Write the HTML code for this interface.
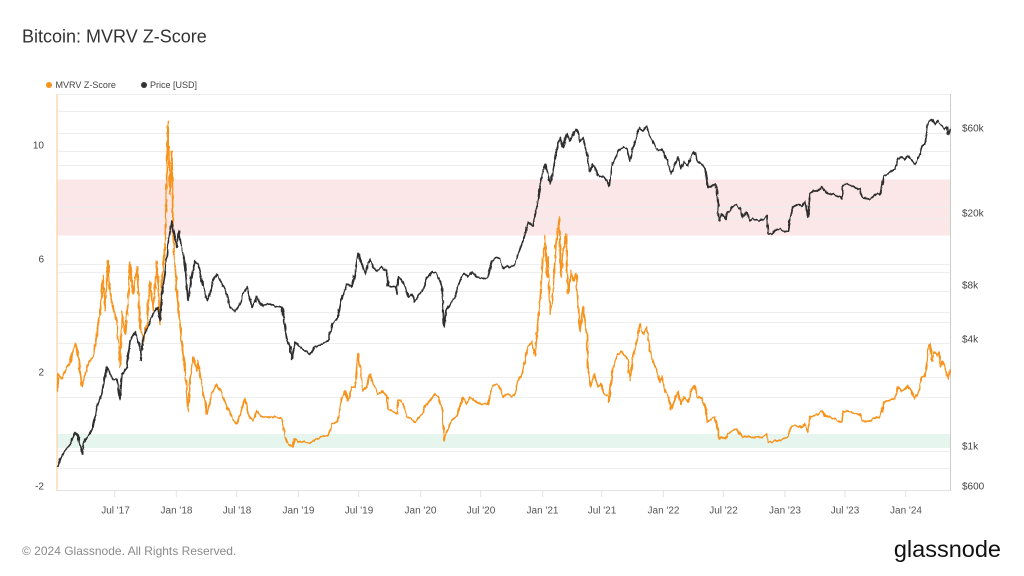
<!DOCTYPE html>
<html>
<head>
<meta charset="utf-8">
<style>
  html, body { margin:0; padding:0; background:#ffffff; }
  body { width:1024px; height:576px; overflow:hidden; position:relative; font-family:"Liberation Sans", Arial, sans-serif; }
  svg { position:absolute; left:0; top:0; }
  text { font-family:"Liberation Sans", Arial, sans-serif; }
</style>
</head>
<body>
<svg width="1024" height="576" viewBox="0 0 1024 576" xmlns="http://www.w3.org/2000/svg">
  <defs>
    <filter id="jit" filterUnits="userSpaceOnUse" x="50" y="90" width="910" height="410">
      <feTurbulence type="fractalNoise" baseFrequency="0.35 0.12" numOctaves="2" seed="7" result="n"/>
      <feDisplacementMap in="SourceGraphic" in2="n" scale="3.2" xChannelSelector="R" yChannelSelector="G"/>
    </filter>
  </defs>
  <rect x="0" y="0" width="1024" height="576" fill="#ffffff"/>

  <!-- Title -->
  <text x="22" y="42.5" font-size="18" fill="#333333">Bitcoin: MVRV Z-Score</text>

  <!-- Legend -->
  <circle cx="49" cy="85" r="3" fill="#f7931a"/>
  <text x="55.5" y="88" font-size="9" fill="#444444">MVRV Z-Score</text>
  <circle cx="144" cy="85" r="3" fill="#333333"/>
  <text x="150" y="88" font-size="9" fill="#444444">Price [USD]</text>

  <!-- Bands -->
  <rect x="57" y="179.5" width="893" height="56" fill="#fce7e8"/>
  <rect x="57" y="434" width="893" height="14" fill="#e6f6ee"/>

  <!-- Gridlines -->
  <g stroke="#eeeeee" stroke-width="1">
    <line x1="57" y1="94.5" x2="950" y2="94.5"/>
    <line x1="57" y1="111.5" x2="950" y2="111.5"/>
    <line x1="57" y1="133.5" x2="950" y2="133.5"/>
    <line x1="57" y1="151.5" x2="950" y2="151.5"/>
    <line x1="57" y1="165.5" x2="950" y2="165.5"/>
    <line x1="57" y1="207.5" x2="950" y2="207.5"/>
    <line x1="57" y1="218.5" x2="950" y2="218.5"/>
    <line x1="57" y1="264.5" x2="950" y2="264.5"/>
    <line x1="57" y1="272.5" x2="950" y2="272.5"/>
    <line x1="57" y1="291.5" x2="950" y2="291.5"/>
    <line x1="57" y1="312.5" x2="950" y2="312.5"/>
    <line x1="57" y1="322.5" x2="950" y2="322.5"/>
    <line x1="57" y1="343.5" x2="950" y2="343.5"/>
    <line x1="57" y1="377.5" x2="950" y2="377.5"/>
    <line x1="57" y1="397.5" x2="950" y2="397.5"/>
    <line x1="57" y1="451.5" x2="950" y2="451.5"/>
    <line x1="57" y1="468.5" x2="950" y2="468.5"/>
  </g>

  <!-- Bottom axis line -->
  <line x1="57" y1="490.5" x2="950" y2="490.5" stroke="#e3e3e3" stroke-width="1"/>
  <!-- Right axis line -->
  <line x1="950.5" y1="94" x2="950.5" y2="491" stroke="#cccccc" stroke-width="1"/>
  <!-- Left axis line (orange) -->
  <line x1="57" y1="94" x2="57" y2="491" stroke="#fbd2a4" stroke-width="1.2"/>

  <!-- X ticks -->
  <g stroke="#e3e3e3" stroke-width="1">
    <line x1="114.7" y1="490" x2="114.7" y2="497"/>
    <line x1="176.3" y1="490" x2="176.3" y2="497"/>
    <line x1="236.7" y1="490" x2="236.7" y2="497"/>
    <line x1="298.3" y1="490" x2="298.3" y2="497"/>
    <line x1="358.7" y1="490" x2="358.7" y2="497"/>
    <line x1="420.7" y1="490" x2="420.7" y2="497"/>
    <line x1="480.7" y1="490" x2="480.7" y2="497"/>
    <line x1="542.7" y1="490" x2="542.7" y2="497"/>
    <line x1="601.7" y1="490" x2="601.7" y2="497"/>
    <line x1="663.3" y1="490" x2="663.3" y2="497"/>
    <line x1="723.3" y1="490" x2="723.3" y2="497"/>
    <line x1="785" y1="490" x2="785" y2="497"/>
    <line x1="845" y1="490" x2="845" y2="497"/>
    <line x1="905.7" y1="490" x2="905.7" y2="497"/>
  </g>

  <!-- X labels -->
  <g font-size="10" fill="#555555" text-anchor="middle">
    <text x="115.5" y="513.5">Jul '17</text>
    <text x="176.5" y="513.5">Jan '18</text>
    <text x="237" y="513.5">Jul '18</text>
    <text x="298.5" y="513.5">Jan '19</text>
    <text x="359" y="513.5">Jul '19</text>
    <text x="420.5" y="513.5">Jan '20</text>
    <text x="481" y="513.5">Jul '20</text>
    <text x="542.5" y="513.5">Jan '21</text>
    <text x="602" y="513.5">Jul '21</text>
    <text x="663.5" y="513.5">Jan '22</text>
    <text x="723.5" y="513.5">Jul '22</text>
    <text x="785" y="513.5">Jan '23</text>
    <text x="845" y="513.5">Jul '23</text>
    <text x="906" y="513.5">Jan '24</text>
  </g>

  <!-- Left labels -->
  <g font-size="10" fill="#444444" text-anchor="end">
    <text x="44" y="148.5">10</text>
    <text x="44" y="262.5">6</text>
    <text x="44" y="375.5">2</text>
    <text x="44" y="489.5">-2</text>
  </g>

  <!-- Right labels -->
  <g font-size="10" fill="#444444" text-anchor="start">
    <text x="962" y="131.5">$60k</text>
    <text x="962" y="216.5">$20k</text>
    <text x="962" y="288.5">$8k</text>
    <text x="962" y="342.5">$4k</text>
    <text x="962" y="449.5">$1k</text>
    <text x="962" y="489.5">$600</text>
  </g>

  <!-- MVRV Z-Score (orange) -->
  <polyline filter="url(#jit)" fill="none" stroke="#f7931a" stroke-width="1.7" stroke-linejoin="round" points="
57.7,391 58,374 62,379 67,367 70,362 75,344 78,354 82,387 87,367 90,361 93,357 97,334 100,314 103,276 105,311 108,261 110,294 113,307 117,321 120,367 122,311 125,334 128,304 130,262 133,294 137,267 140,324 143,341 147,324 150,281 153,311 157,261 160,324 162,281 165,247 168,122 170,194 172,151 173,234 177,294 180,324 183,354 185,367 188,412 190,384 193,357 197,371 198,361 202,387 207,414 210,401 213,391 217,384 222,394 227,407 232,417 237,424 240,414 245,399 248,414 253,421 257,411 262,417 268,417 275,417 282,419 285,437 288,444 292,447 295,439 300,442 305,442 310,444 315,439 322,437 328,436 332,424 338,421 342,397 345,391 348,401 352,387
355,387 358,354 360,367 363,391 367,387 370,374 373,384 378,394 383,391 387,397 388,409 393,411 397,414 398,399 403,404 407,417 412,419 415,422 418,419 422,414 425,406 430,401 434,394 438,397 442,407 444,441 447,431 450,424 453,419 457,416 460,406 463,397 467,404 470,397 475,401 482,404 488,404 492,386 497,384 500,387 503,397 507,394 512,397 515,394 518,381 522,374 525,361 528,346 532,342 535,356 538,321 540,301 542,271 545,236 547,277 548,257 550,314 552,304 554,274 556,244 559,217 561,277 563,254 566,234 568,294 571,271 573,281 576,274 578,301 580,331 583,307 587,334 588,367 591,387 594,374 598,387 601,384 604,394 608,397 609,401 612,374 615,361 618,354 622,351 626,357 628,361 630,381 633,357 637,341 640,324 643,334 647,327 650,351 653,361
655,366 658,374 660,382 662,376 665,391 668,396 671,409 674,402 678,391 681,404 684,396 688,402 691,391 694,386 698,397 702,399 705,406 708,422 712,419 715,417 717,424 719,439 722,437 725,439 728,434 732,431 737,429 740,434 743,437 747,436 750,437 758,437 763,437 767,434 768,443 773,441 778,441 783,439 788,437 790,429 793,426 798,426 802,427 805,424 808,432 810,417 813,416 818,414 822,411 825,416 830,417 835,419 840,422 842,422 843,412 847,411 852,412 857,414 860,414 862,421 867,422 870,421 873,419 877,417 880,417 882,411 884,402 888,401 892,399 895,399 898,387 902,391 905,389 908,386 912,392 915,399 918,394 922,377 925,376 927,361 928,347 930,344 932,361 934,352 937,356 939,352 941,367 943,361 946,371 948,379 950,369"/>

  <!-- Price (black) -->
  <polyline filter="url(#jit)" fill="none" stroke="#2d2d2d" stroke-width="1.7" stroke-linejoin="round" points="
57.7,467 60,459 65,451 70,444 75,432 78,436 82,454 85,439 90,434 93,427 97,407 102,392 107,367 110,374 113,379 117,379 120,399 122,374 127,367 130,341 135,332 140,347 141,361 143,337 148,327 153,314 158,307 160,321 162,294 165,274 168,244 172,221 174,234 177,247 179,231 182,251 185,264 188,301 192,274 195,261 198,264 202,281 207,301 210,294 213,281 217,274 222,284 227,294 230,307 235,312 240,304 243,294 247,287 252,307 257,297 262,306 268,304 275,306 282,307 285,327 287,341 290,347 292,359 295,342 300,347 305,351 310,354 315,347 322,344 328,341 332,324 338,317 342,297 347,284 352,287
355,274 358,254 362,264 365,274 370,259 373,267 377,271 382,267 387,271 388,286 392,287 395,287 397,294 398,277 402,281 405,287 408,297 412,294 415,302 418,296 422,291 425,284 428,277 433,271 437,274 440,281 442,287 444,327 446,311 448,307 452,301 455,297 458,287 462,276 465,274 468,277 472,272 477,277 483,279 488,277 492,261 497,257 500,259 503,269 507,266 512,267 515,264 518,254 522,244 525,234 528,222 533,226 537,206 540,187 543,171 545,164 548,174 550,184 553,171 557,149 560,137 563,147 567,134 570,141 573,134 577,129 580,142 583,137 587,154 590,171 593,164 597,174 600,177 603,176 607,181 609,187 612,167 615,159 618,151 623,147 627,149 630,161 633,147 637,134 640,127 643,131 647,126 650,136 653,141
655,146 658,151 662,149 665,157 668,161 671,174 674,167 678,157 681,169 684,161 688,166 691,157 694,152 698,162 702,164 705,169 708,187 712,186 715,184 717,191 719,221 722,214 725,219 728,212 732,207 737,204 740,209 743,217 747,212 750,221 753,219 758,221 763,219 767,216 768,234 772,234 775,231 780,229 785,232 788,231 790,217 793,207 798,204 802,206 805,201 808,217 810,194 813,191 818,191 822,187 825,191 828,194 833,194 837,196 840,197 842,199 843,186 847,184 852,186 857,189 860,189 862,197 867,199 870,199 873,196 877,194 880,194 882,187 884,176 888,174 892,171 895,169 898,159 902,157 905,159 908,156 912,161 915,164 918,159 922,146 925,144 927,131 928,122 932,119 935,124 938,121 942,126 944,129 947,127 948,134 950,129"/>

  <!-- Footer -->
  <text x="22" y="555" font-size="12" fill="#8a8a8a">© 2024 Glassnode. All Rights Reserved.</text>
  <text x="1001" y="557" font-size="23.5" fill="#111111" text-anchor="end">glassnode</text>
</svg>
</body>
</html>
